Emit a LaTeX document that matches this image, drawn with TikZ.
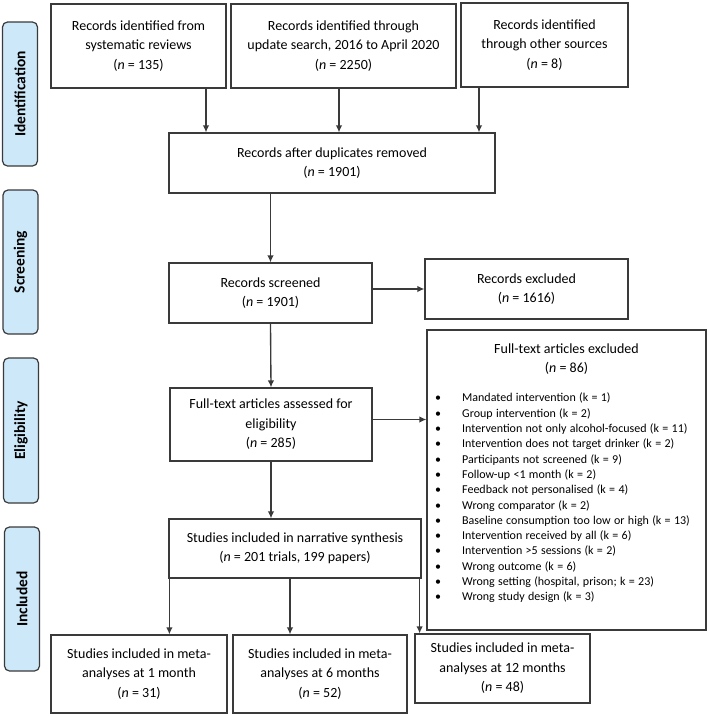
\documentclass[tikz,border=0pt]{standalone}
\usepackage{fontspec}
\setmainfont{Carlito}
\usetikzlibrary{arrows.meta}
\definecolor{linec}{HTML}{3A3A3A}
\definecolor{lblfill}{HTML}{CDE8F8}
\newcommand{\bul}{\makebox[27pt][l]{\textbullet}}
\tikzset{
  box/.style={draw=linec, line width=1.2pt, fill=white, align=center, inner sep=2pt,
    font=\fontsize{14}{19.5}\selectfont},
  phase/.style={draw=linec, line width=1.2pt, fill=lblfill, rounded corners=5pt,
    minimum width=35pt, minimum height=144pt, inner sep=0pt},
  phasetxt/.style={rotate=90, font=\fontsize{15.5}{18}\selectfont\bfseries},
  arr/.style={draw=linec, line width=1.35pt, -{Latex[length=7pt,width=6.5pt]}},
}
\begin{document}
\begin{tikzpicture}[x=1pt,y=-1pt]
\useasboundingbox (0,0) rectangle (709,716);
% phase labels
\node[phase] (lid) at (20,94) {};
\node[phasetxt] (tid) at (lid.center) {Identification};
\node[phase] (lsc) at (20.5,262) {};
\node[phasetxt] (tsc) at (lsc.center) {Screening};
\node[phase, minimum height=145pt] (lel) at (21,430.5) {};
\node[phasetxt] (tel) at (lel.center) {Eligibility};
\node[phase] (lin) at (22,599) {};
\node[phasetxt] (tin) at (lin.center) {Included};
% boxes
\node[box, minimum width=175pt, minimum height=84pt] (b1) at (138.5,46) {Records identified from\\systematic reviews\\(\textit{n} = 135)};
\node[box, minimum width=225pt, minimum height=84pt] (b2) at (343.5,46) {Records identified through\\update search, 2016 to April 2020\\(\textit{n} = 2250)};
\node[box, minimum width=167pt, minimum height=84pt] (b3) at (544.5,45) {Records identified\\through other sources\\(\textit{n} = 8)};
\node[box, minimum width=326pt, minimum height=60pt] (dup) at (332,163) {Records after duplicates removed\\(\textit{n} = 1901)};
\node[box, minimum width=203pt, minimum height=60pt] (scr) at (270.5,293) {Records screened\\(\textit{n} = 1901)};
\node[box, minimum width=203pt, minimum height=60pt] (exc) at (526.5,289) {Records excluded\\(\textit{n} = 1616)};
\node[box, minimum width=202pt, minimum height=73pt] (ass) at (271,424.5) {Full-text articles assessed for\\eligibility\\(\textit{n} = 285)};
\node[box, minimum width=279pt, minimum height=300pt] (ftx) at (566.5,480) {};
\node[align=center, inner sep=0pt, font=\fontsize{14}{19.5}\selectfont, anchor=north] (ftt) at ([yshift=-14pt]ftx.north) {Full-text articles excluded\\(\textit{n} = 86)};
\node[text width=265pt, align=left, inner sep=0pt, anchor=north west] (ftl) at (435,393) {\fontsize{12}{15.3}\selectfont
\bul Mandated intervention (k = 1)\\
\bul Group intervention (k = 2)\\
\bul Intervention not only alcohol-focused (k = 11)\\
\bul Intervention does not target drinker (k = 2)\\
\bul Participants not screened (k = 9)\\
\bul Follow-up <1 month (k = 2)\\
\bul Feedback not personalised (k = 4)\\
\bul Wrong comparator (k = 2)\\
\bul Baseline consumption too low or high (k = 13)\\
\bul Intervention received by all (k = 6)\\
\bul Intervention >5 sessions (k = 2)\\
\bul Wrong outcome (k = 6)\\
\bul Wrong setting (hospital, prison; k = 23)\\
\bul Wrong study design (k = 3)\par};
\node[box, minimum width=252pt, minimum height=59pt] (nar) at (295,548.5) {Studies included in narrative synthesis\\(\textit{n} = 201 trials, 199 papers)};
\node[box, minimum width=176pt, minimum height=78pt] (m1) at (139,674) {Studies included in meta-\\analyses at 1 month\\(\textit{n} = 31)};
\node[box, minimum width=174pt, minimum height=78pt] (m6) at (320,674) {Studies included in meta-\\analyses at 6 months\\(\textit{n} = 52)};
\node[box, minimum width=175pt, minimum height=69pt] (m12) at (502.5,668.5) {Studies included in meta-\\analyses at 12 months\\(\textit{n} = 48)};
% connectors
\draw[arr] ([xshift=67.5pt]b1.south) -- ([xshift=67.5pt]b1.south |- dup.north);
\draw[arr] ([xshift=-4.5pt]b2.south) -- ([xshift=-4.5pt]b2.south |- dup.north);
\draw[arr] ([xshift=-65.5pt]b3.south) -- ([xshift=-65.5pt]b3.south |- dup.north);
\draw[arr] (dup.south -| scr.north) -- (scr.north);
\draw[arr] (exc.west -| scr.east) -- (exc.west);
\draw[arr] (scr.south) -- (ass.north);
\draw[arr] ([yshift=5pt]ass.east) -- ([yshift=5pt]ass.east -| ftx.west);
\draw[arr] (ass.south) -- (ass.south |- nar.north);
\draw[arr] ([xshift=1pt]nar.south west) -- ([xshift=1pt]nar.south west |- m1.north);
\draw[arr] ([xshift=-5pt]nar.south) -- ([xshift=-5pt]nar.south |- m6.north);
\draw[arr] ([xshift=-2pt]nar.south east) -- ([xshift=-2pt]nar.south east |- m12.north);
\end{tikzpicture}
\end{document}
